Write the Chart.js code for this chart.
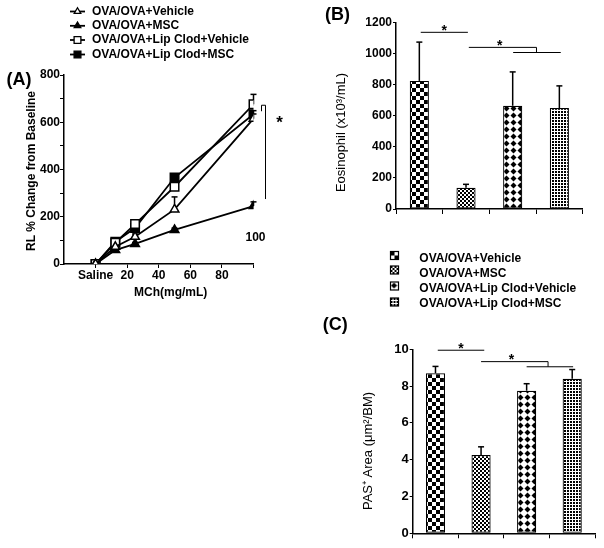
<!DOCTYPE html>
<html>
<head>
<meta charset="utf-8">
<script src="https://cdn.jsdelivr.net/npm/chart.js@4.4.1/dist/chart.umd.min.js"></script>
<style>
  body { margin: 0; background: #fff; width: 604px; height: 548px; position: relative; overflow: hidden; }
  canvas { position: absolute; }
  #chartA { left: 0; top: 0; }
  #chartB { left: 300px; top: 0; }
  #chartC { left: 300px; top: 310px; }
</style>
</head>
<body>
<canvas id="chartA" width="300" height="310"></canvas>
<canvas id="chartB" width="304" height="310"></canvas>
<canvas id="chartC" width="304" height="238"></canvas>
<script>
Chart.defaults.font.family = "'Liberation Sans', Arial, Helvetica, sans-serif";
Chart.defaults.color = '#000';
Chart.defaults.animation = false;

// ---- data ----
const groupNames = ['OVA/OVA+Vehicle', 'OVA/OVA+MSC', 'OVA/OVA+Lip Clod+Vehicle', 'OVA/OVA+Lip Clod+MSC'];

// (A) airway resistance
const doses = [0, 12.5, 25, 50, 100];
const rlVehicle = [0, 73, 115, 231, 615];
const rlMsc = [0, 59, 85, 144, 245];
const rlLipVehicle = [0, 90, 169, 327, 676];
const rlLipMsc = [0, 94, 152, 366, 634];
const rlVehicleErr = [0, 6, 12, 53, 20];
const rlMscErr = [0, 4, 6, 8, 18];
const rlLipVehicleErr = [0, 8, 12, 25, 42];
const rlLipMscErr = [0, 8, 10, 15, 15];
const doseTickValues = [0, 20, 40, 60, 80];
const doseTickLabels = ['Saline', '20', '40', '60', '80'];
const rlTickLabels = [0, 200, 400, 600, 800];

// (B) eosinophils
const eosinophil = [825, 137, 665, 650];
const eosinophilErr = [250, 22, 218, 143];

// (C) PAS+ area
const pasArea = [8.7, 4.25, 7.75, 8.4];
const pasAreaErr = [0.37, 0.45, 0.38, 0.5];

// ---- helpers ----
function makePatterns(ctx) {
  function tile(size, paint) {
    const c = document.createElement('canvas');
    c.width = c.height = size;
    const g = c.getContext('2d');
    g.fillStyle = '#fff';
    g.fillRect(0, 0, size, size);
    g.fillStyle = '#000';
    paint(g);
    return ctx.createPattern(c, 'repeat');
  }
  return [
    tile(8, g => { g.fillRect(0, 0, 4, 4); g.fillRect(4, 4, 4, 4); }),
    tile(4, g => { g.fillRect(0, 0, 2, 2); g.fillRect(2, 2, 2, 2); }),
    tile(7, g => { g.beginPath(); g.moveTo(3.5, 0.5); g.lineTo(6.5, 3.5); g.lineTo(3.5, 6.5); g.lineTo(0.5, 3.5); g.closePath(); g.fill(); }),
    tile(3, g => { g.fillRect(0, 0, 2, 2); })
  ];
}

function text(ctx, str, x, y, font, align, rotate) {
  ctx.save();
  ctx.font = font;
  ctx.fillStyle = '#000';
  ctx.textAlign = align || 'left';
  ctx.textBaseline = 'middle';
  ctx.translate(x, y);
  if (rotate) ctx.rotate(-Math.PI / 2);
  ctx.fillText(str, 0, 0);
  ctx.restore();
}

function star(ctx, x, y, size) {
  ctx.save();
  ctx.font = 'bold ' + size + 'px ' + Chart.defaults.font.family;
  ctx.textAlign = 'center';
  ctx.textBaseline = 'alphabetic';
  ctx.fillText('*', x, y + size * 0.57);
  ctx.restore();
}

function strokePath(ctx, pts, w) {
  ctx.save();
  ctx.strokeStyle = '#000';
  ctx.lineWidth = w || 1;
  ctx.beginPath();
  pts.forEach((p, i) => i ? ctx.lineTo(p[0], p[1]) : ctx.moveTo(p[0], p[1]));
  ctx.stroke();
  ctx.restore();
}

// upward error bars, drawn before the marks so markers cover their base
function errorBarsPlugin(hook) {
  return {
    id: 'errorBars',
    [hook](chart) {
      const ctx = chart.ctx;
      const y = chart.scales.y;
      chart.data.datasets.forEach((ds, di) => {
        if (!ds.err) return;
        chart.getDatasetMeta(di).data.forEach((el, i) => {
          if (!ds.err[i]) return;
          const v = typeof ds.data[i] === 'object' ? ds.data[i].y : ds.data[i];
          const top = y.getPixelForValue(v + ds.err[i]);
          strokePath(ctx, [[el.x, el.y], [el.x, top]], 1.5);
          strokePath(ctx, [[el.x - 3, top], [el.x + 3, top]], 1.5);
        });
      });
    }
  };
}

const axisBase = {
  border: { color: '#000', width: 1.5 },
  grid: { drawOnChartArea: false, color: '#000', tickLength: 4 },
  ticks: { font: { size: 12, weight: 'bold' }, padding: 0 }
};

// ---- (A) ----
const lineSeries = [
  { data: rlVehicle, err: rlVehicleErr, style: 'triangle', r: 5, fill: '#fff' },
  { data: rlMsc, err: rlMscErr, style: 'triangle', r: 5, fill: '#000' },
  { data: rlLipVehicle, err: rlLipVehicleErr, style: 'rect', r: 6, fill: '#fff' },
  { data: rlLipMsc, err: rlLipMscErr, style: 'rect', r: 6, fill: '#000' }
];

new Chart(document.getElementById('chartA'), {
  type: 'line',
  data: {
    datasets: lineSeries.map((s, i) => ({
      label: groupNames[i],
      data: doses.map((d, k) => ({ x: d, y: s.data[k] })),
      err: s.err,
      borderColor: '#000',
      borderWidth: 1.8,
      pointStyle: s.style,
      pointRadius: s.r,
      pointBackgroundColor: s.fill,
      pointBorderColor: '#000',
      pointBorderWidth: 1.5,
      tension: 0
    }))
  },
  options: {
    responsive: false,
    layout: { padding: { left: 0, top: 75, right: 46.5, bottom: 0 } },
    plugins: { legend: { display: false }, tooltip: { enabled: false } },
    scales: {
      x: {
        type: 'linear', min: -20, max: 100,
        ...axisBase,
        afterFit: s => { s.height = 46; },
        afterBuildTicks: s => { s.ticks = doseTickValues.concat([100]).map(v => ({ value: v })); },
        ticks: {
          ...axisBase.ticks,
          maxRotation: 0, minRotation: 0, autoSkip: false,
          callback: v => { const i = doseTickValues.indexOf(v); return i < 0 ? '' : doseTickLabels[i]; }
        }
      },
      y: {
        min: 0, max: 800,
        ...axisBase,
        afterFit: s => { s.width = 64; },
        ticks: {
          ...axisBase.ticks,
          stepSize: 100,
          callback: v => rlTickLabels.includes(v) ? String(v) : ''
        }
      }
    }
  },
  plugins: [errorBarsPlugin('beforeDatasetsDraw'), {
    id: 'decorA',
    afterDraw(chart) {
      const ctx = chart.ctx;
      const x = chart.scales.x, y = chart.scales.y;
      const bold12 = 'bold 12px ' + Chart.defaults.font.family;
      text(ctx, '(A)', 6.5, 80.5, 'bold 18px ' + Chart.defaults.font.family);
      text(ctx, 'RL % Change from Baseline', 31.7, 171, bold12, 'center', true);
      text(ctx, 'MCh(mg/mL)', 170.7, 293, bold12, 'center');
      text(ctx, '100', x.getPixelForValue(100) + 2, y.getPixelForValue(110), bold12, 'center');
      // significance bracket
      const bx = x.getPixelForValue(100) + 12;
      const yt = y.getPixelForValue(672), yb = y.getPixelForValue(275);
      strokePath(ctx, [[bx - 4, yt + 6], [bx - 4, yt], [bx, yt], [bx, yb]], 1);
      star(ctx, bx + 14, y.getPixelForValue(617), 17);
      // legend
      const rows = [11.5, 25.8, 40, 54.5];
      lineSeries.forEach((s, i) => {
        strokePath(ctx, [[70, rows[i]], [85, rows[i]]], 1.8);
        ctx.save();
        ctx.fillStyle = s.fill;
        ctx.strokeStyle = '#000';
        ctx.lineWidth = 1.3;
        Chart.helpers.drawPoint(ctx, { pointStyle: s.style, radius: s.r - 1.2, rotation: 0, borderWidth: 1.3 }, 77.5, rows[i]);
        ctx.restore();
        text(ctx, groupNames[i], 92, rows[i], bold12);
      });
    }
  }]
});

// ---- (B) and (C) bar panels ----
function barPanel(id, values, errs, opts) {
  const canvas = document.getElementById(id);
  const patterns = makePatterns(canvas.getContext('2d'));
  return new Chart(canvas, {
    type: 'bar',
    data: {
      labels: groupNames,
      datasets: [{
        data: values,
        err: errs,
        backgroundColor: patterns,
        borderColor: '#000',
        borderWidth: 1.2,
        borderSkipped: false,
        barPercentage: opts.barPct,
        categoryPercentage: 1
      }]
    },
    options: {
      responsive: false,
      layout: { padding: opts.padding },
      plugins: { legend: { display: false }, tooltip: { enabled: false } },
      scales: {
        x: {
          ...axisBase,
          grid: { ...axisBase.grid, offset: true, tickLength: 5 },
          ticks: { display: false },
          afterFit: s => { s.height = opts.xHeight; }
        },
        y: {
          min: 0, max: opts.max,
          ...axisBase,
          grid: { ...axisBase.grid, tickLength: 3 },
          afterFit: s => { s.width = opts.yWidth; },
          ticks: {
            ...axisBase.ticks,
            font: { size: opts.tickSize, weight: 'bold' },
            stepSize: opts.step, padding: 1,
            callback: v => String(v)
          }
        }
      }
    },
    plugins: [errorBarsPlugin('afterDatasetsDraw'), {
      id: 'decor' + id,
      afterDraw(chart) {
        const ctx = chart.ctx;
        const x = chart.scales.x, y = chart.scales.y;
        text(ctx, opts.letter, opts.letterX, 15, 'bold 18px ' + Chart.defaults.font.family);
        text(ctx, opts.title, opts.titleX, opts.titleY, '13px ' + Chart.defaults.font.family, 'center', true);
        const s = opts.sig;
        const px = v => x.getPixelForValue(v);
        strokePath(ctx, [[px(s.a[0]), y.getPixelForValue(s.a[2])], [px(s.a[1]), y.getPixelForValue(s.a[2])]], 1);
        strokePath(ctx, [[px(s.b[0]), y.getPixelForValue(s.b[2])], [px(s.b[1]), y.getPixelForValue(s.b[2])], [px(s.b[1]), y.getPixelForValue(s.c[2])]], 1);
        strokePath(ctx, [[px(s.c[0]), y.getPixelForValue(s.c[2])], [px(s.c[1]), y.getPixelForValue(s.c[2])]], 1);
        star(ctx, px((s.a[0] + s.a[1]) / 2), y.getPixelForValue(s.starA), 14);
        star(ctx, px((s.b[0] + s.b[1]) / 2) - 3, y.getPixelForValue(s.starB), 14);
        if (opts.legend) opts.legend(ctx, patterns);
      }
    }]
  });
}

barPanel('chartB', eosinophil, eosinophilErr, {
  max: 1200, step: 200, tickSize: 12, barPct: 0.41,
  padding: { left: 0, top: 22.7, right: 21.3, bottom: 0 },
  yWidth: 96, xHeight: 101,
  letter: '(B)', letterX: 25,
  title: 'Eosinophil (x10³/mL)', titleX: 41.7, titleY: 132.5,
  sig: { a: [0.03, 1.04, 1138], b: [1.06, 2.51, 1041], c: [2.01, 3.03, 1008], starA: 1170, starB: 1075 },
  legend(ctx, patterns) {
    const sq = [255.5, 270, 286, 302];
    const tx = [259, 273.5, 288.5, 303.5];
    groupNames.forEach((name, i) => {
      ctx.save();
      ctx.translate(90.5, sq[i] - 4);
      ctx.fillStyle = patterns[i];
      ctx.fillRect(0, 0, 8, 8);
      ctx.strokeStyle = '#000';
      ctx.lineWidth = 1.2;
      ctx.strokeRect(0, 0, 8, 8);
      ctx.restore();
      text(ctx, name, 119.3, tx[i], 'bold 12px ' + Chart.defaults.font.family);
    });
  }
});

barPanel('chartC', pasArea, pasAreaErr, {
  max: 10, step: 2, tickSize: 13, barPct: 0.42,
  padding: { left: 0, top: 39.3, right: 9, bottom: 0 },
  yWidth: 112.7, xHeight: 14.7,
  letter: '(C)', letterX: 22.7,
  title: 'PAS⁺ Area (μm²/BM)', titleX: 68.3, titleY: 141,
  sig: { a: [0.05, 1.07, 9.95], b: [1.0, 2.47, 9.33], c: [2.0, 3.02, 9.05], starA: 10.23, starB: 9.65 }
});
</script>
</body>
</html>
